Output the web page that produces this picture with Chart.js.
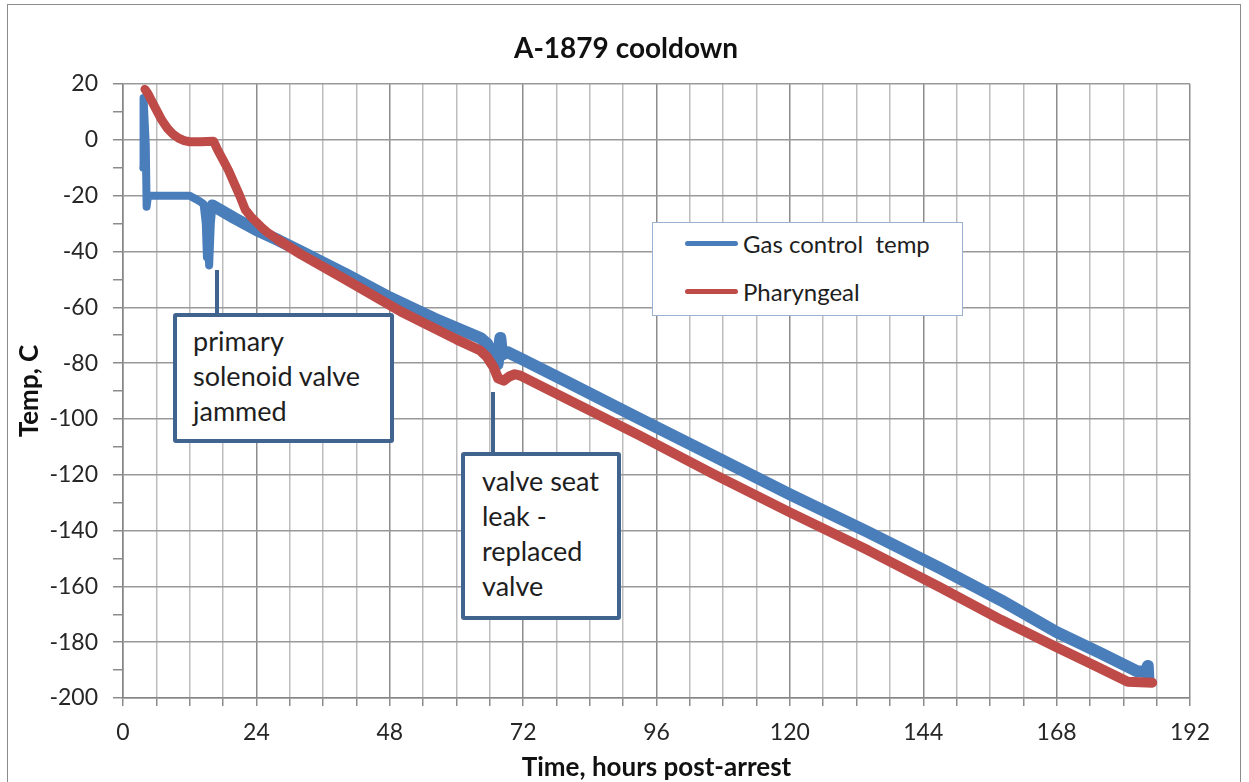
<!DOCTYPE html>
<html>
<head>
<meta charset="utf-8">
<title>A-1879 cooldown</title>
<script src="https://cdn.jsdelivr.net/npm/chart.js@4.4.1/dist/chart.umd.min.js"></script>
<style>
  html, body { margin: 0; padding: 0; background: #fff; }
  #wrap { position: relative; width: 1249px; height: 782px; overflow: hidden; font-family: Lato, "Open Sans", sans-serif; color: #1e1e1e; }
  #chart { position: absolute; left: 0; top: 0; }
  .frame { position: absolute; left: 7px; top: 4px; width: 1234px; height: 820px; border: 1.5px solid #8c8c8c; box-sizing: border-box; }
  .title { position: absolute; left: 426px; top: 30px; width: 400px; height: 34px; line-height: 34px; text-align: center; font-size: 28px; font-weight: bold; color: #111; }
  .legend { position: absolute; left: 652px; top: 222px; width: 311px; height: 94px; box-sizing: border-box; border: 1.5px solid #9ab0cc; background: #fff; }
  .legend-item { position: absolute; left: 32px; height: 30px; display: flex; align-items: center; font-size: 24px; white-space: pre; }
  .legend-item .swatch { display: inline-block; width: 53px; height: 5px; border-radius: 3px; margin-right: 5px; }
  .note { position: absolute; box-sizing: border-box; border: 4px solid #41648f; border-radius: 3px; background: #fff; font-size: 27px; line-height: 35px; }
  .connector { position: absolute; width: 4px; background: #41648f; }
</style>
</head>
<body>
<div id="wrap">
  <div class="frame"></div>
  <canvas id="chart" width="1249" height="782"></canvas>
  <div class="title" id="chart-title"></div>

  <div class="legend">
    <div class="legend-item" style="top: 5px;"><span class="swatch" id="swatch-gas"></span><span id="label-gas"></span></div>
    <div class="legend-item" style="top: 53px;"><span class="swatch" id="swatch-phar"></span><span id="label-phar"></span></div>
  </div>

  <div class="connector" style="left: 215px; top: 270px; height: 44px;"></div>
  <div class="note" style="left: 173px; top: 313px; width: 221px; height: 130px; padding: 6px 0 0 16px;">primary<br>solenoid valve<br>jammed</div>

  <div class="connector" style="left: 491px; top: 392px; height: 61px;"></div>
  <div class="note" style="left: 461px; top: 452px; width: 160px; height: 168px; padding: 7px 0 0 17px;">valve seat<br>leak -<br>replaced<br>valve</div>
</div>

<script>
const chartTitle = "A-1879 cooldown";
const seriesNames = ["Gas control  temp", "Pharyngeal"];
const seriesColors = ["#4a7ebb", "#be4b48"];

// hours post-arrest / temperature (C)
const gasHours = [3.65, 3.7, 4.1, 4.25, 4.5, 12, 13.8, 14.5, 14.9, 15.1, 15.3, 15.5, 15.8, 16.1, 20, 24, 28, 32, 40, 48, 56, 64.3, 65.5, 66.7, 67.4, 67.9, 68.2, 69.1, 71.5, 80, 93, 106, 120, 134, 147, 158, 168, 176, 182.5, 184.2, 184.4, 184.5];
const gasTemps = [-10, 15, -2, -24, -20, -20, -22, -23, -30, -42, -36, -45, -30, -23.5, -28, -32.3, -36, -40, -48, -56.5, -64, -71, -73, -77.7, -80.5, -71, -77, -76, -78.3, -86.8, -100, -113, -127, -140.5, -153.5, -165, -176.4, -184, -190.5, -190.5, -188.5, -193];

const pharHours = [3.95, 4.5, 5, 6, 7, 8, 9, 10, 11, 12, 14, 16.3, 17, 18, 19, 20, 21, 22, 23, 24, 25, 26, 28, 32, 40, 50, 60, 64.3, 65.5, 66.7, 67.5, 68.5, 69.5, 70.5, 71.5, 80, 93, 106, 120, 134, 147, 158, 168, 175, 180.8, 185.2];
const pharTemps = [18.1, 16.5, 14.5, 10.7, 7, 4.1, 2, 0.6, -0.3, -0.7, -0.7, -0.5, -3.5, -7.2, -11, -15.5, -20, -25, -27.5, -29.5, -31.5, -33.2, -36, -41, -50, -61.5, -71.5, -75.5, -77.8, -81.5, -85.5, -86.3, -84.8, -84, -84.5, -93, -106, -119.5, -133.5, -147, -160.3, -172, -181.8, -188.5, -194.2, -194.5];

const xMin = 0;
const xMax = 192;
const xStep = 6;
const xLabelEvery = 24;
const yMin = -200;
const yMax = 20;
const yStep = 10;
const yLabelEvery = 20;

function toPoints(xs, ys) {
  return xs.map((x, i) => ({ x, y: ys[i] }));
}

const tickFont = { family: "Lato", size: 23 };
const axisTitleFont = { family: "Lato", size: 26, weight: "bold" };

function setupLabels() {
  document.getElementById("chart-title").textContent = chartTitle;
  document.getElementById("swatch-gas").style.background = seriesColors[0];
  document.getElementById("swatch-phar").style.background = seriesColors[1];
  document.getElementById("label-gas").textContent = seriesNames[0];
  document.getElementById("label-phar").textContent = seriesNames[1];
}

const ctx = document.getElementById("chart");
new Chart(ctx, {
  type: "line",
  data: {
    datasets: [
      {
        label: seriesNames[0],
        data: toPoints(gasHours, gasTemps),
        borderColor: seriesColors[0],
        borderWidth: 8,
        order: 1,
        segment: { borderWidth: (c) => (c.p0.parsed.x >= 16 ? 12 : 8) },
      },
      {
        label: seriesNames[1],
        data: toPoints(pharHours, pharTemps),
        borderColor: seriesColors[1],
        borderWidth: 9,
        order: 0,
        segment: { borderWidth: (c) => (c.p0.parsed.x >= 28 ? 10 : 9) },
      },
    ],
  },
  options: {
    responsive: false,
    animation: false,
    layout: { padding: { left: 0, right: 59, top: 84, bottom: 0 } },
    elements: {
      point: { radius: 0 },
      line: { tension: 0, borderCapStyle: "round", borderJoinStyle: "round" },
    },
    plugins: {
      legend: { display: false },
      tooltip: { enabled: false },
      title: { display: false },
    },
    scales: {
      x: {
        type: "linear",
        min: xMin,
        max: xMax,
        border: { color: "#868686", width: 1.5 },
        grid: {
          color: (c) => (c.tick.value % xLabelEvery === 0 ? "#8c8c8c" : "#bdbdbd"),
          lineWidth: 1.5,
          tickLength: 8,
          tickColor: "#8c8c8c",
        },
        ticks: {
          stepSize: xStep,
          maxTicksLimit: 100,
          autoSkip: false,
          maxRotation: 0,
          padding: 13,
          color: "#262626",
          font: tickFont,
          callback: (v) => (v % xLabelEvery === 0 ? v : ""),
        },
        title: {
          display: true,
          text: "Time, hours post-arrest",
          color: "#111",
          font: axisTitleFont,
          padding: { top: 0, bottom: -1 },
        },
        afterFit: (scale) => {
          scale.height = 84;
        },
      },
      y: {
        type: "linear",
        min: yMin,
        max: yMax,
        border: { color: "#868686", width: 1.5 },
        grid: {
          color: (c) => (c.tick.value % yLabelEvery === 0 ? "#999999" : "rgba(0,0,0,0)"),
          lineWidth: 1.5,
          tickLength: 10,
          tickColor: "#8c8c8c",
        },
        ticks: {
          stepSize: yStep,
          maxTicksLimit: 100,
          autoSkip: false,
          padding: 15,
          color: "#262626",
          font: tickFont,
          callback: (v) => (v % yLabelEvery === 0 ? v : ""),
        },
        title: {
          display: true,
          text: "Temp, C",
          color: "#111",
          font: axisTitleFont,
          padding: { top: 14, bottom: 0 },
        },
        afterFit: (scale) => {
          scale.width = 123;
        },
      },
    },
  },
});

setupLabels();
</script>
</body>
</html>
